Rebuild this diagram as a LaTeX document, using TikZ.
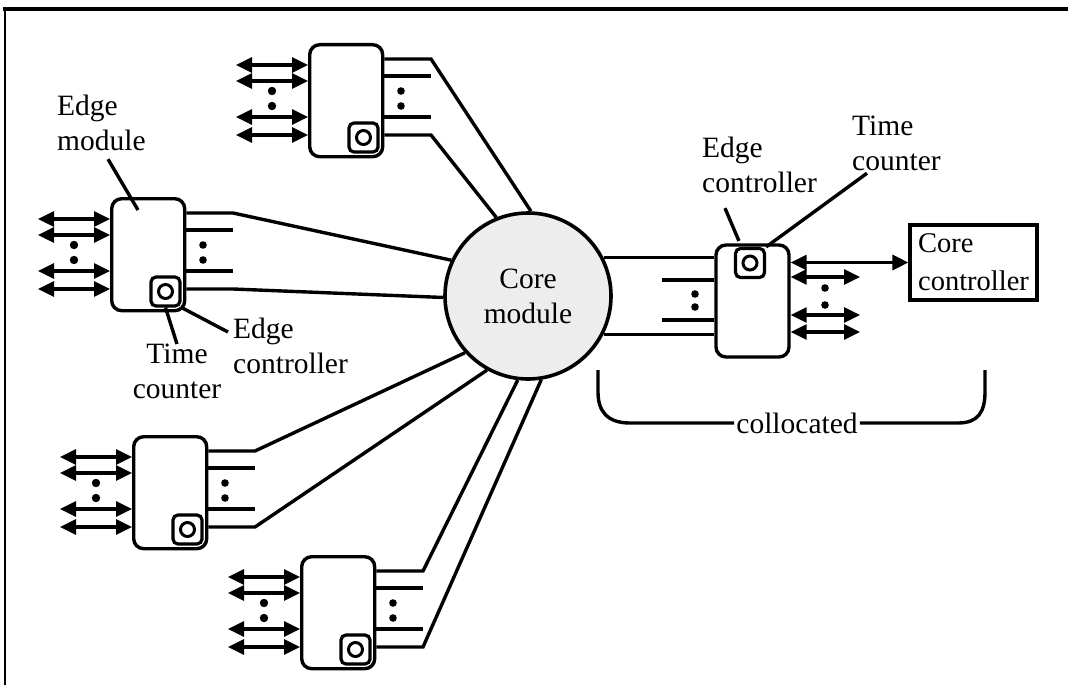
\documentclass[tikz,border=0pt]{standalone}
\usepackage{fontspec}
\setmainfont{Liberation Serif}
\usetikzlibrary{arrows.meta,calc}
\tikzset{
 conn/.style={line width=3.4pt},
 lead/.style={line width=3.4pt},
 dbl/.style={line width=3.2pt, {Triangle[length=16pt,width=15pt]}-{Triangle[length=16pt,width=15pt]}},
 modbox/.style={draw, line width=3.4pt, rounded corners=10pt, minimum width=73pt, minimum height=112pt, inner sep=0pt, fill=white},
 ctlbox/.style={draw, line width=3.2pt, rounded corners=5pt, minimum size=29pt, inner sep=0pt, fill=white},
 tcirc/.style={draw, circle, line width=3pt, minimum size=14pt, inner sep=0pt},
 lab/.style={font=\fontsize{29.5}{35}\selectfont, inner sep=0pt, align=left},
 edgemod/.pic={
  \foreach \yy in {22,38,74,92} \draw[dbl] (-72,\yy) -- (0,\yy);
  \fill (-36,48) circle[radius=4.2pt];
  \fill (-36,63) circle[radius=4.2pt];
  \coordinate (-ua) at (123,16);
  \coordinate (-la) at (123,92);
  \draw[conn] (73,33) -- (123,33);
  \draw[conn] (73,74) -- (123,74);
  \fill (93,48) circle[radius=3.8pt];
  \fill (93,63) circle[radius=3.8pt];
  \node[modbox,anchor=north west] (-box) at (0,0) {};
  \node[ctlbox] (-ctl) at (55.5,94.5) {};
  \node[tcirc] (-tc) at (55.5,94.5) {};
 }
}
\begin{document}
\begin{tikzpicture}[x=1pt,y=-1pt]
\useasboundingbox (0,0) rectangle (1068,685);
% frame
\draw[line width=3.5pt] (3,9) -- (1068,9);
\draw[line width=2.5pt] (5,9) -- (5,685);

% core module
\node[draw, circle, line width=3.6pt, fill=gray!14, minimum size=166pt, inner sep=0pt,
      font=\fontsize{29.5}{35}\selectfont, align=center] (core) at (528,296) {Core\\module};

% edge modules
\pic (m1) at (308,43) {edgemod};
\pic (m2) at (110,197) {edgemod};
\pic (m3) at (132,435) {edgemod};
\pic (m4) at (300,555) {edgemod};

\draw[conn] (m1-box.east |- m1-ua) -- (m1-ua) -- (core.88);
\draw[conn] (m1-box.east |- m1-la) -- (m1-la) -- (core.112);
\draw[conn] (m2-box.east |- m2-ua) -- (m2-ua) -- (core.155);
\draw[conn] (m2-box.east |- m2-la) -- (m2-la) -- (core.181);
\draw[conn] (m3-box.east |- m3-ua) -- (m3-ua) -- (core.222);
\draw[conn] (m3-box.east |- m3-la) -- (m3-la) -- (core.241);
\draw[conn] (m4-box.east |- m4-ua) -- (m4-ua) -- (core.263);
\draw[conn] (m4-box.east |- m4-la) -- (m4-la) -- (core.279);

% right (collocated) module
\node[modbox] (m5) at (752.5,301) {};
\node[ctlbox] (m5ctl) at (750,263) {};
\node[tcirc] (m5tc) at (750,263) {};
\draw[conn] (core.27) -- (core.27 -| m5.west);
\draw[conn] (core.-27) -- (core.-27 -| m5.west);
\coordinate (s1) at (662,280);
\coordinate (s2) at (662,320);
\draw[conn] (s1) -- (s1 -| m5.west);
\draw[conn] (s2) -- (s2 -| m5.west);
\fill (695,294) circle[radius=3.8pt];
\fill (695,307) circle[radius=3.8pt];

% core controller
\node[draw, line width=3.2pt, minimum width=127pt, minimum height=75pt, inner sep=0pt,
      font=\fontsize{28.5}{38}\selectfont, align=left] (cc) at (973.5,262.5) {Core\\controller};
\draw[dbl] (m5.east |- cc.west) -- (cc.west);
\coordinate (r1) at (860,277);
\coordinate (r2) at (860,315);
\coordinate (r3) at (860,332);
\draw[dbl] (m5.east |- r1) -- (r1);
\draw[dbl] (m5.east |- r2) -- (r2);
\draw[dbl] (m5.east |- r3) -- (r3);
\fill (825,288) circle[radius=3.8pt];
\fill (825,305) circle[radius=3.8pt];

% labels
\node[lab, anchor=north west] (emlab) at (57,95) {Edge\\module};
\draw[lead] ($(emlab.south west)+(51,8)$) -- ($(m2-box.north west)+(28,13)$);

\node[lab, align=center, anchor=north] (tclab) at (177,344) {Time\\counter};
\draw[lead] (m2-ctl.south) -- (tclab.north);

\node[lab, anchor=north west] (eclab) at (233,318) {Edge\\controller};
\draw[lead] (m2-ctl.south east) -- ($(eclab.north west)+(-5,14)$);

\node[lab, anchor=north west] (reclab) at (702,137) {Edge\\controller};
\draw[lead] ($(reclab.south west)+(23,15)$) -- ($(m5ctl.north west)+(5,-6)$);

\node[lab, anchor=north west] (rtclab) at (852,116) {Time\\counter};
\draw[lead] ($(rtclab.south west)+(15,2)$) -- (m5ctl.north east);

% collocated bracket
\node[lab, inner xsep=2pt] (coll) at (797,423) {collocated};
\draw[conn] (coll.west) -- (630,423) .. controls (608,423) and (598,412) .. (598,392) -- (598,370);
\draw[conn] (coll.east) -- (958,423) .. controls (978,423) and (985,412) .. (985,392) -- (985,370);
\end{tikzpicture}
\end{document}
